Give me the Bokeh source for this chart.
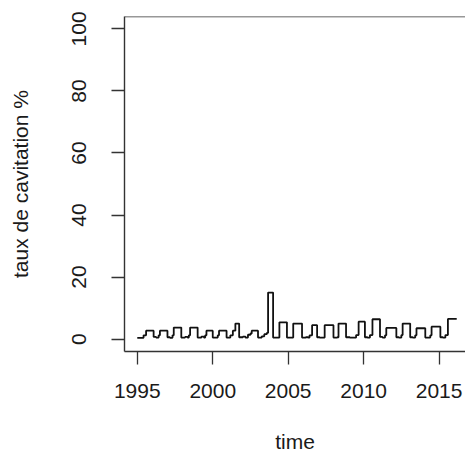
import numpy as np
from bokeh.plotting import figure
from bokeh.models import Range1d, FixedTicker, Span
from bokeh.embed import file_html
from bokeh.resources import INLINE

# Monthly cavitation rate (%), January 1995 to March 2016
start_year = 1995
rate_1995 = [0.4, 0.4, 0.4, 0.4, 0.4, 1.2, 1.2, 2.7, 2.7, 2.7, 2.7, 2.7]
rate_1996 = [2.7, 0.7, 0.7, 0.5, 0.5, 1.2, 2.7, 2.7, 2.7, 2.7, 2.7, 2.7]
rate_1997 = [0.6, 0.6, 0.4, 0.4, 1.2, 3.7, 3.7, 3.7, 3.7, 3.7, 3.7, 0.5]
rate_1998 = [0.5, 0.5, 0.7, 0.7, 0.5, 1.2, 3.7, 3.7, 3.7, 3.7, 3.7, 3.7]
rate_1999 = [0.5, 0.5, 0.5, 0.8, 0.8, 0.5, 1.2, 2.7, 2.7, 2.7, 2.7, 2.7]
rate_2000 = [0.5, 0.5, 0.5, 0.5, 1.2, 2.7, 2.7, 2.7, 2.7, 2.7, 2.7, 0.5]
rate_2001 = [0.5, 0.5, 1.2, 1.2, 2.7, 2.7, 5.0, 5.0, 5.0, 0.6, 0.6, 0.6]
rate_2002 = [0.8, 0.8, 0.5, 0.5, 1.4, 1.4, 1.8, 2.7, 2.7, 2.7, 2.7, 2.7]
rate_2003 = [0.5, 0.5, 0.5, 0.9, 0.9, 1.6, 1.6, 2.0, 15.0, 15.0, 15.0, 15.0]
rate_2004 = [0.5, 0.5, 0.5, 0.5, 0.5, 5.4, 5.4, 5.4, 5.4, 5.4, 5.4, 0.5]
rate_2005 = [0.5, 0.5, 0.5, 0.5, 5.0, 5.0, 5.0, 5.0, 5.0, 5.0, 5.0, 0.5]
rate_2006 = [0.5, 0.5, 0.6, 0.6, 0.5, 1.2, 1.2, 4.5, 4.5, 4.5, 4.5, 0.6]
rate_2007 = [0.6, 0.5, 0.5, 0.5, 0.5, 4.5, 4.5, 4.5, 4.5, 4.5, 4.5, 4.5]
rate_2008 = [0.5, 0.5, 0.5, 0.6, 5.0, 5.0, 5.0, 5.0, 5.0, 5.0, 0.6, 0.6]
rate_2009 = [0.6, 0.5, 0.5, 0.5, 0.5, 0.5, 1.3, 1.3, 5.6, 5.6, 5.6, 5.6]
rate_2010 = [5.6, 0.6, 0.6, 0.5, 0.5, 1.3, 1.3, 6.4, 6.4, 6.4, 6.4, 6.4]
rate_2011 = [6.4, 0.7, 0.7, 0.5, 0.5, 1.2, 3.6, 3.6, 3.6, 3.6, 3.6, 3.6]
rate_2012 = [3.6, 3.6, 0.6, 0.6, 0.5, 0.5, 1.3, 5.0, 5.0, 5.0, 5.0, 5.0]
rate_2013 = [5.0, 0.6, 0.6, 0.5, 0.5, 1.2, 3.5, 3.5, 3.5, 3.5, 3.5, 3.5]
rate_2014 = [3.5, 0.5, 0.5, 0.5, 0.5, 1.2, 4.0, 4.0, 4.0, 4.0, 4.0, 4.0]
rate_2015 = [4.0, 0.6, 0.6, 0.5, 0.5, 1.3, 1.3, 6.5, 6.5, 6.5, 6.5, 6.5]
rate_2016 = [6.5, 6.5, 6.5]

x_ticks = [1995, 2000, 2005, 2010, 2015]
y_ticks = [0, 20, 40, 60, 80, 100]

rate = (rate_1995 + rate_1996 + rate_1997 + rate_1998 + rate_1999 + rate_2000
        + rate_2001 + rate_2002 + rate_2003 + rate_2004 + rate_2005 + rate_2006
        + rate_2007 + rate_2008 + rate_2009 + rate_2010 + rate_2011 + rate_2012
        + rate_2013 + rate_2014 + rate_2015 + rate_2016)
t = start_year + np.arange(len(rate)) / 12.0

# 4% padding on each side of the time span; the right part of the box runs past the page
span = t[-1] - t[0]
pad = 0.04 * span
x_start = t[0] - pad
x_end = x_start + (span + 2 * pad) * 341.0 / 345.0

FONT = "Liberation Sans"
INK = "#1a1a1a"

p = figure(width=465, height=455, output_backend="svg", toolbar_location=None,
           x_range=Range1d(x_start, x_end), y_range=Range1d(-4, 104),
           min_border_left=124, min_border_right=0, min_border_top=16,
           min_border_bottom=104)
p.background_fill_color = "white"
p.border_fill_color = "white"
p.outline_line_color = None
p.xgrid.visible = False
p.ygrid.visible = False

p.step(t, rate, mode="after", line_color="#111111", line_width=1.8)

# top edge of the plot box
p.add_layout(Span(location=104, dimension="width", line_color="#333333", line_width=1.4))

for ax in (p.xaxis[0], p.yaxis[0]):
    ax.axis_line_color = "#333333"
    ax.axis_line_width = 1.4
    ax.major_tick_line_color = "#333333"
    ax.major_tick_line_width = 1.3
    ax.major_tick_in = 0
    ax.major_tick_out = 13
    ax.minor_tick_line_color = None
    ax.major_label_text_font = FONT
    ax.major_label_text_font_size = "21px"
    ax.major_label_text_color = INK
    ax.axis_label_text_font = FONT
    ax.axis_label_text_font_size = "21px"
    ax.axis_label_text_font_style = "normal"
    ax.axis_label_text_color = INK

p.xaxis.ticker = FixedTicker(ticks=x_ticks)
p.xaxis.major_label_overrides = {v: str(v) for v in x_ticks}
p.xaxis.axis_label = "time"
p.xaxis.major_label_standoff = 19
p.xaxis.axis_label_standoff = 29

p.yaxis.ticker = FixedTicker(ticks=y_ticks)
p.yaxis.major_label_overrides = {v: str(v) for v in y_ticks}
p.yaxis.major_label_orientation = "vertical"
p.yaxis.axis_label = "taux de cavitation %"
p.yaxis.major_label_standoff = 25
p.yaxis.axis_label_standoff = 38

open("out.html", "w").write(file_html(p, INLINE))
